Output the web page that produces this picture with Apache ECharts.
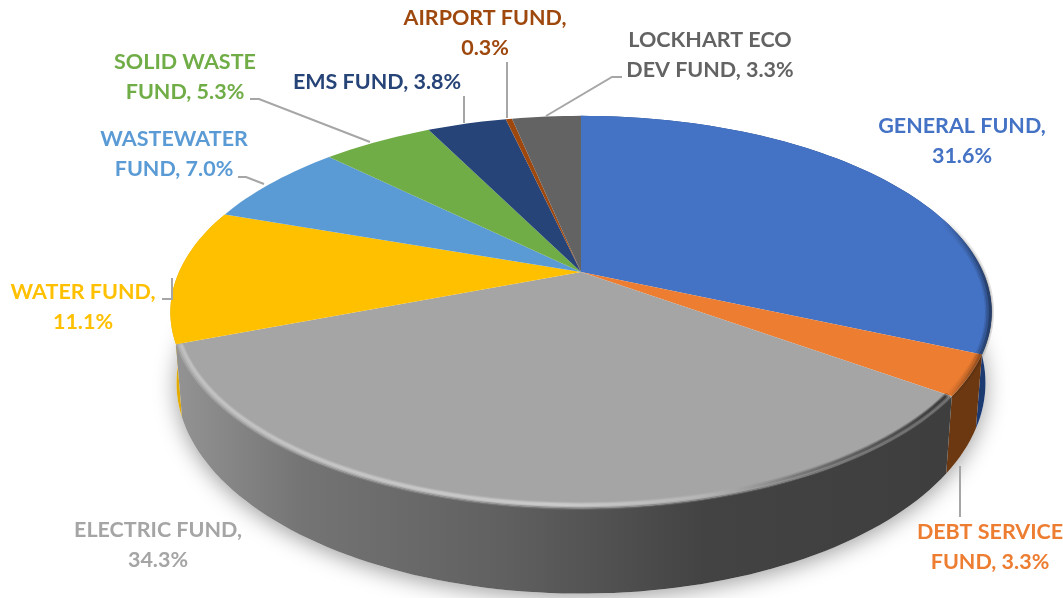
<!DOCTYPE html>
<html>
<head>
  <meta charset="utf-8">
  <title>Fund share</title>
  <script src="https://cdn.jsdelivr.net/npm/echarts@6/dist/echarts.min.js"></script>
  <style>
    html, body { margin: 0; background: #fff; }
    #main { width: 1063px; height: 598px; }
  </style>
</head>
<body>
  <div id="main"></div>
  <script>
    // data, clockwise from 12 o'clock
    var categories = ['GENERAL FUND', 'DEBT SERVICE\nFUND', 'ELECTRIC FUND', 'WATER FUND', 'WASTEWATER\nFUND',
      'SOLID WASTE\nFUND', 'EMS FUND', 'AIRPORT FUND', 'LOCKHART ECO\nDEV FUND'];
    var shares = [31.6, 3.3, 34.3, 11.1, 7.0, 5.3, 3.8, 0.3, 3.3];
    // what goes between name and percent in each label
    var separators = [',\n', ', ', ',\n', ',\n', ', ', ', ', ', ', ',\n', ', '];

    // styles
    var faceColors = ['#4472c4', '#ed7d31', '#a5a5a5', '#ffc000', '#5b9bd5', '#70ad47', '#264478', '#9e480e', '#636363'];
    var sideStops = {
      0: [[0, '#2f5fa8'], [1, '#1c3a72']],
      1: [[0, '#8c4c1e'], [1, '#6b3812']],
      2: [[0, '#929292'], [0.16, '#747474'], [0.42, '#606060'], [0.68, '#434343'], [1, '#3e3e3e']],
      3: [[0, '#e3ab00'], [1, '#c99700']]
    };
    // label centres and leader lines, in page pixels
    var labelCenters = [[962, 141], [990, 547], [158, 545], [83, 307], [174, 154], [185, 77], [377, 82], [485, 33], [710, 55]];
    var leaders = [
      null,
      [[960, 466], [960, 517]],
      null,
      [[162, 299], [172, 299], [172, 278]],
      [[238, 177], [246, 177], [264, 184]],
      [[250, 99], [259, 99], [370, 142]],
      [[464, 96], [464, 123]],
      [[507, 62], [507, 118]],
      [[622, 77], [612, 77], [546, 116]]
    ];

    // pie projection: a tilted disc seen in perspective
    var cx = 581, cy = 272, radX = 402, radY = 188, persp = 0.204, depth = 68, bottomShrink = 0.985;

    function project(r, deg, lower) {
      var a = deg * Math.PI / 180;
      var u = r * Math.sin(a), v = -r * Math.cos(a);
      var w = 1 - persp * v;
      var x = radX * u / w, y = radY * v / w;
      if (lower) return [cx + x * bottomShrink, cy + y + depth / w];
      return [cx + x, cy + y];
    }
    function arc(r, from, to, lower) {
      var pts = [], n = Math.max(2, Math.ceil(Math.abs(to - from) / 1.5));
      for (var i = 0; i <= n; i++) pts.push(project(r, from + (to - from) * i / n, lower));
      return pts;
    }
    function hGrad(x0, x1, stops) {
      return new echarts.graphic.LinearGradient(x0, 0, x1, 0, stops.map(function (s) {
        return { offset: s[0], color: s[1] };
      }), true);
    }
    function white(a) { return 'rgba(255,255,255,' + a + ')'; }
    function black(a) { return 'rgba(0,0,0,' + a + ')'; }

    var rows = [], running = 0;
    shares.forEach(function (v, i) { rows.push([running, v, i]); running += v; });
    // electric side sits in front of its neighbours
    var sideRows = rows.filter(function (d) { return sideStops[d[2]] && d[2] !== 2; }).concat([rows[2]]);

    var grayFrom = rows[2][0] * 3.6, grayTo = (rows[2][0] + rows[2][1]) * 3.6;

    var chart = echarts.init(document.getElementById('main'));
    chart.setOption({
      animation: false,
      backgroundColor: '#fff',
      series: [
        { // soft drop shadow
          type: 'custom', coordinateSystem: 'none', silent: true, data: [[0]],
          renderItem: function () {
            return {
              type: 'polygon',
              shape: { points: arc(1, 0, 360, true) },
              style: { fill: '#fff', shadowBlur: 22, shadowColor: 'rgba(0,0,0,0.38)', shadowOffsetY: 4 }
            };
          }
        },
        { // rim
          type: 'custom', coordinateSystem: 'none', silent: true, data: sideRows,
          renderItem: function (params, api) {
            var from = api.value(0) * 3.6, to = (api.value(0) + api.value(1)) * 3.6;
            return {
              type: 'polygon',
              shape: { points: arc(1, from, to, false).concat(arc(1, to, from, true)) },
              style: { fill: hGrad(180, 950, sideStops[api.value(2)]) }
            };
          }
        },
        { // top faces
          type: 'custom', coordinateSystem: 'none', silent: true, data: rows,
          renderItem: function (params, api) {
            var from = api.value(0) * 3.6, to = (api.value(0) + api.value(1)) * 3.6;
            return {
              type: 'polygon',
              shape: { points: [[cx, cy]].concat(arc(1, from, to, false)) },
              style: { fill: faceColors[api.value(2)] }
            };
          }
        },
        { // bevel: stacked strokes fake the soft edge, light on the gray front, dark on the right
          type: 'custom', coordinateSystem: 'none', silent: true, data: [[0]],
          renderItem: function () {
            var kids = [];
            [[0.992, 8, 0.1], [0.99, 5, 0.16], [0.989, 2.5, 0.22]].forEach(function (b) {
              kids.push({
                type: 'polyline',
                shape: { points: arc(b[0], grayFrom + 0.6, grayTo - 0.6, false) },
                style: {
                  fill: 'none', lineWidth: b[1], lineCap: 'round',
                  stroke: hGrad(175, 950, [
                    [0, white(b[2] * 0.7)], [0.5, white(b[2])], [0.68, white(b[2] * 0.4)],
                    [0.8, black(b[2] * 0.6)], [1, black(b[2] * 1.8)]
                  ])
                }
              });
            });
            // darker falloff on the far right of the blue and orange
            [[0.995, 9, 0.1], [0.995, 6, 0.14], [0.997, 3, 0.2]].forEach(function (b) {
              kids.push({
                type: 'polyline',
                shape: { points: arc(b[0], 70, grayFrom - 0.3, false) },
                style: {
                  fill: 'none', lineWidth: b[1],
                  stroke: hGrad(940, 1000, [[0, black(0)], [0.7, black(b[2])], [1, black(b[2] * 1.5)]])
                }
              });
            });
            // soft blend where the face meets the rim
            kids.push({
              type: 'polyline',
              shape: { points: arc(1, grayFrom + 0.4, grayTo - 0.4, false) },
              style: {
                fill: 'none', lineWidth: 2,
                stroke: hGrad(175, 950, [[0, 'rgba(150,150,150,0.6)'], [0.6, 'rgba(120,120,120,0.6)'], [1, 'rgba(90,90,90,0.7)']])
              }
            });
            return { type: 'group', children: kids };
          }
        },
        { // labels and leader lines
          type: 'custom', coordinateSystem: 'none', silent: true, data: rows,
          renderItem: function (params, api) {
            var i = api.value(2), kids = [];
            if (leaders[i]) {
              kids.push({
                type: 'polyline',
                shape: { points: leaders[i] },
                style: { fill: 'none', stroke: '#a6a6a6', lineWidth: 2 }
              });
            }
            kids.push({
              type: 'text',
              style: {
                text: categories[i] + separators[i] + shares[i].toFixed(1) + '%',
                x: labelCenters[i][0], y: labelCenters[i][1],
                fill: faceColors[i], fontFamily: 'Lato', fontWeight: 700, fontSize: 21.5, lineHeight: 30.5,
                align: 'center', verticalAlign: 'middle'
              }
            });
            return { type: 'group', children: kids };
          }
        }
      ]
    });
  </script>
</body>
</html>
